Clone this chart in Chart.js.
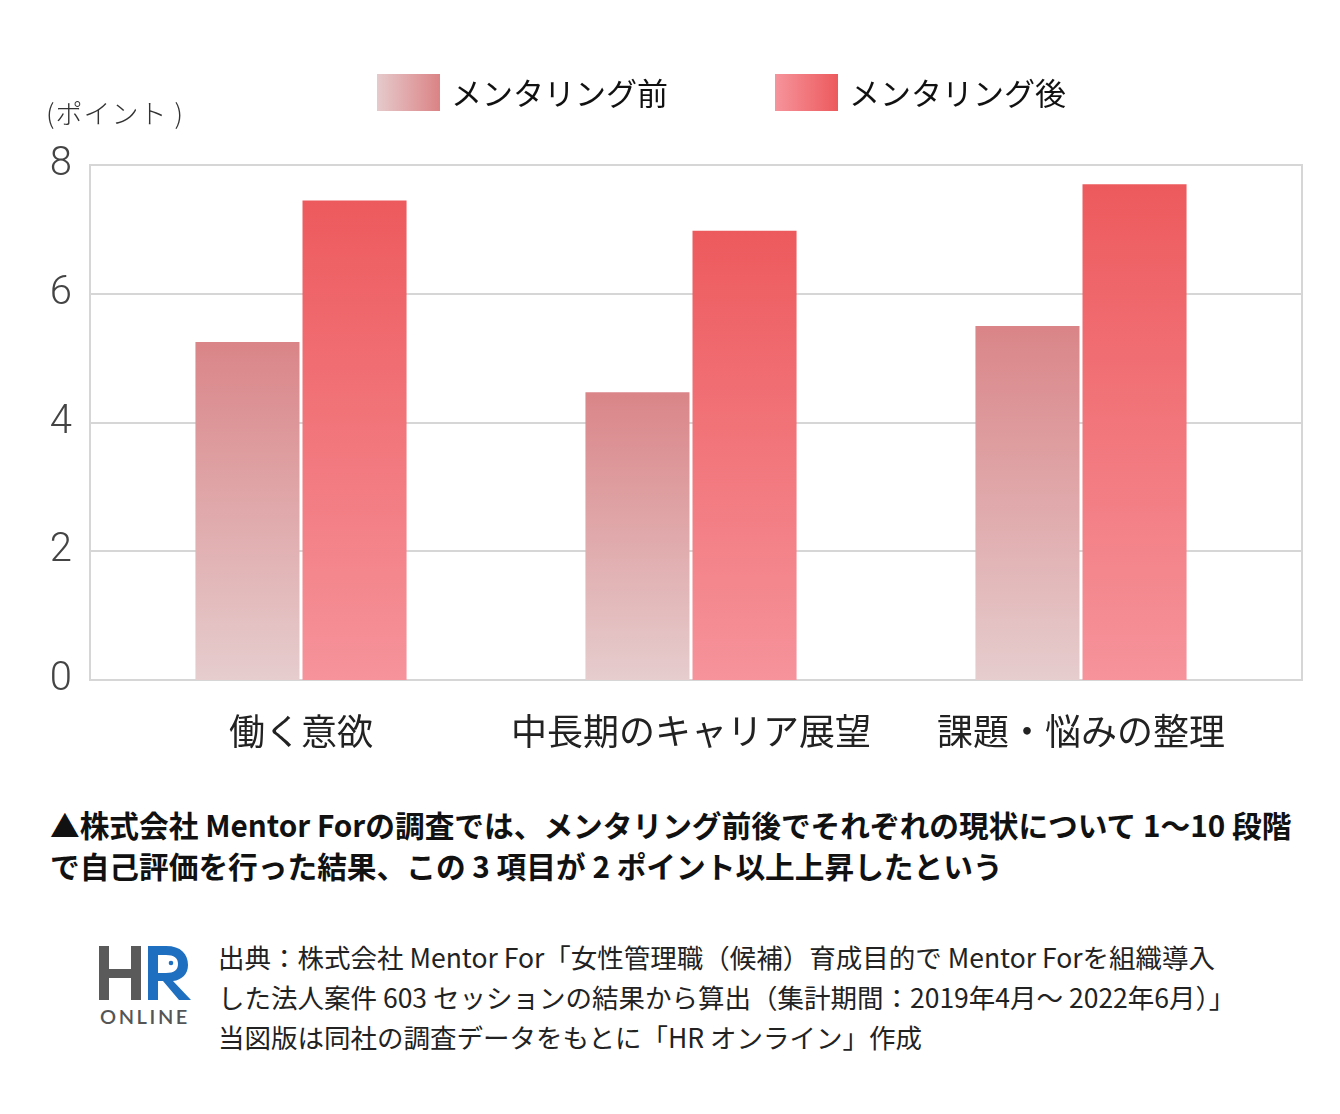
<!DOCTYPE html>
<html lang="ja">
<head>
<meta charset="utf-8">
<script src="https://cdn.jsdelivr.net/npm/chart.js@4.4.1/dist/chart.umd.min.js"></script>
<style>
  html,body{margin:0;padding:0;background:#fff;}
  body{width:1340px;height:1114px;position:relative;overflow:hidden;font-family:"Noto Sans CJK JP","Noto Sans",sans-serif;color:#222;}
  #wrap{position:absolute;left:0;top:0;width:1340px;height:770px;}
  .legend-item{position:absolute;top:74px;height:37px;display:flex;align-items:center;}
  .legend-box{width:63px;height:37px;}
  .legend-text{margin-left:11px;font-size:31px;line-height:37px;color:#111;font-weight:400;margin-top:-3px;}
  #unit{position:absolute;left:46px;top:93px;font-size:27px;color:#333;font-weight:300;letter-spacing:1px;}
  #caption{position:absolute;left:50px;top:804px;width:1280px;font-size:29.7px;line-height:41px;font-weight:700;color:#111;white-space:nowrap;}
  #logo{position:absolute;left:96px;top:942px;width:98px;height:86px;}
  #source{position:absolute;left:218px;top:937px;font-size:26.5px;line-height:40px;color:#222;font-weight:400;white-space:nowrap;}
</style>
</head>
<body>
<div id="wrap"><canvas id="c" width="1340" height="770"></canvas></div>
<div id="unit">(ポイント )</div>
<div class="legend-item" style="left:377px"><div class="legend-box" style="background:linear-gradient(to right,#e6cacc,#db8385)"></div><div class="legend-text" id="lg0"></div></div>
<div class="legend-item" style="left:775px"><div class="legend-box" style="background:linear-gradient(to right,#f6949c,#ec5a5d)"></div><div class="legend-text" id="lg1"></div></div>
<div id="caption">▲株式会社 Mentor Forの調査では、メンタリング前後でそれぞれの現状について 1～10 段階<br>で自己評価を行った結果、この 3 項目が 2 ポイント以上上昇したという</div>
<svg id="logo" viewBox="0 0 98 86">
  <rect x="3" y="4" width="10" height="54" fill="#5a5a5a"/>
  <rect x="35" y="4" width="10" height="54" fill="#5a5a5a"/>
  <rect x="3" y="27" width="42" height="9" fill="#5a5a5a"/>
  <path d="M52 58 V4 H70 C85 4 92 12 92 23 C92 32 86 38 77 39 L95 58 H83 L67 39 H62 V58 Z M62 13 V31 H70 C78 31 82 28 82 22 C82 16 78 13 70 13 Z" fill="#1f6fc1"/>
  <circle cx="75" cy="21" r="2.3" fill="#1f6fc1"/>
  <text x="49" y="82" text-anchor="middle" font-family="Lato, 'Open Sans', sans-serif" font-size="20" font-weight="600" fill="#555" letter-spacing="2.6">ONLINE</text>
</svg>
<div id="source">出典：株式会社 Mentor For「女性管理職（候補）育成目的で Mentor Forを組織導入<br>した法人案件 603 セッションの結果から算出（集計期間：2019年4月～ 2022年6月）」<br>当図版は同社の調査データをもとに「HR オンライン」作成</div>
<script>
const categories = ["働く意欲", "中長期のキャリア展望", "課題・悩みの整理"];
const seriesNames = ["メンタリング前", "メンタリング後"];
const beforeValues = [5.25, 4.47, 5.5];
const afterValues = [7.45, 6.98, 7.7];
const yTicks = [0, 2, 4, 6, 8];

document.getElementById('lg0').textContent = seriesNames[0];
document.getElementById('lg1').textContent = seriesNames[1];

function barGradient(topColor, bottomColor) {
  return function(ctx) {
    const chart = ctx.chart;
    if (!chart.chartArea || ctx.type !== 'data') return topColor;
    const y = chart.scales.y;
    const top = y.getPixelForValue(ctx.raw);
    const bottom = y.getPixelForValue(0);
    const g = chart.ctx.createLinearGradient(0, top, 0, bottom);
    g.addColorStop(0, topColor);
    g.addColorStop(1, bottomColor);
    return g;
  };
}

// plot frame and horizontal grid lines, spanning a little wider than the bar area
const FRAME_LEFT = 90, FRAME_RIGHT = 1302;
const framePlugin = {
  id: 'frame',
  beforeDatasetsDraw(chart) {
    const {ctx} = chart;
    const y = chart.scales.y;
    ctx.save();
    ctx.strokeStyle = '#d6d6d6';
    ctx.lineWidth = 2;
    ctx.beginPath();
    yTicks.forEach(v => {
      const py = Math.round(y.getPixelForValue(v));
      ctx.moveTo(FRAME_LEFT, py);
      ctx.lineTo(FRAME_RIGHT, py);
    });
    const t = y.getPixelForValue(yTicks[yTicks.length - 1]);
    const b = y.getPixelForValue(0);
    ctx.moveTo(FRAME_LEFT, t - 1); ctx.lineTo(FRAME_LEFT, b + 1);
    ctx.moveTo(FRAME_RIGHT, t - 1); ctx.lineTo(FRAME_RIGHT, b + 1);
    ctx.stroke();
    ctx.restore();
  }
};

new Chart(document.getElementById('c'), {
  type: 'bar',
  data: {
    labels: categories,
    datasets: [
      { label: seriesNames[0], data: beforeValues, backgroundColor: barGradient('#da8588', '#e6cdce'),
        barPercentage: 0.972, categoryPercentage: 0.549 },
      { label: seriesNames[1], data: afterValues, backgroundColor: barGradient('#ed5a5d', '#f6939b'),
        barPercentage: 0.972, categoryPercentage: 0.549 }
    ]
  },
  options: {
    responsive: false,
    animation: false,
    layout: { padding: { top: 165, right: 64, left: 0, bottom: 0 } },
    plugins: { legend: { display: false }, tooltip: { enabled: false } },
    scales: {
      x: {
        grid: { display: false },
        border: { display: false },
        ticks: { color: '#222', padding: 22, font: { family: '"Noto Sans CJK JP"', size: 36, weight: 400 } },
        afterFit(scale) { scale.height = 90; }
      },
      y: {
        min: 0, max: 8,
        afterBuildTicks(scale) { scale.ticks = yTicks.map(v => ({ value: v })); },
        grid: { display: false, drawTicks: false },
        border: { display: false },
        ticks: { color: '#444', padding: 34, font: { family: 'Roboto, "Noto Sans"', size: 40, weight: 300 } },
        afterFit(scale) { scale.width = 106; }
      }
    }
  },
  plugins: [framePlugin]
});
</script>
</body>
</html>
